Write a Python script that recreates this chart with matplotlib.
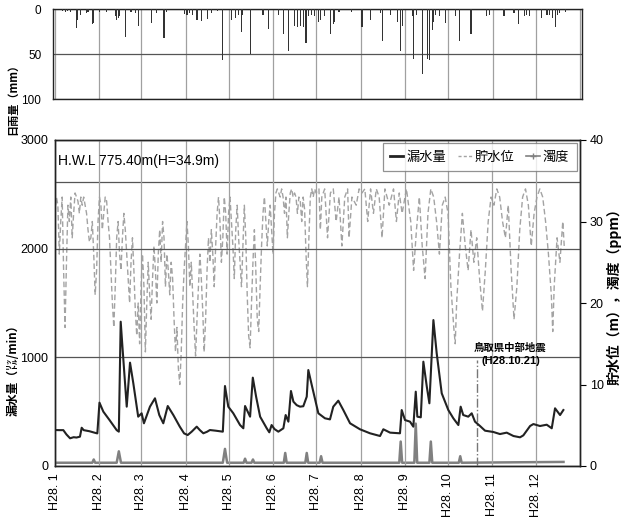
import numpy as np
import matplotlib
matplotlib.use("Agg")
import matplotlib.pyplot as plt
import matplotlib.dates as mdates
from matplotlib.lines import Line2D
from matplotlib import font_manager

# ---- data (H28 = 2016, days counted from 1 Jan) ----
start = np.datetime64("2016-01-01")

rain_day = [5, 7, 9, 11, 15, 16, 18, 22, 23, 26, 27, 31, 36, 42, 43, 44, 45, 49, 53, 56, 58,
            67, 71, 76, 78, 90, 92, 94, 96, 99, 102, 106, 109, 113, 117, 123, 126, 128, 130,
            131, 136, 145, 149, 156, 159, 163, 167, 169, 171, 173, 175, 177, 179, 181, 184,
            185, 188, 192, 194, 195, 198, 207, 214, 220, 227, 228, 234, 239, 241, 242, 249,
            250, 252, 256, 260, 261, 263, 264, 265, 268, 272, 279, 282, 290, 301, 303, 313,
            320, 323, 327, 329, 331, 339, 343, 345, 347, 349, 350, 352, 356]
rain_mm = [2, 2.5, 2, 3, 21, 12, 6, 4, 3, 16, 15, 3, 2.5, 8, 12, 10, 7, 31, 3, 4, 19,
           15, 4, 32, 3, 5, 6, 4, 6, 12, 13, 11, 4.5, 2, 56, 12, 10, 6, 25,
           6, 50, 6, 22, 6, 27, 47, 19, 20, 19, 20, 38, 8, 6, 8, 14,
           12, 8, 28, 16, 14, 3, 3, 20, 12, 4.5, 35, 6, 14, 47, 19, 8,
           55, 6, 72, 55, 56, 23, 14, 6, 8, 15, 8, 35, 28, 8, 6, 8,
           4.5, 16, 8, 6, 8, 10, 6, 6, 10, 20, 6, 4.5, 2.5]

leak_day = [0, 3, 5.8, 8, 10.5, 13, 15, 17.4, 18.6, 20, 24, 28, 29.5, 31, 33.7, 38, 43, 44.5,
            45.8, 47, 50, 52.3, 54.6, 58, 60.4, 62, 66.2, 69.7, 72.7, 75.5, 78.6, 82.5, 87,
            90, 92.5, 95.3, 98.8, 101, 103.4, 106, 108, 112, 117, 118.5, 120.8, 124.3, 129,
            131.3, 132.5, 136, 137.9, 140.2, 143, 147.6, 149.4, 151, 153, 155.7, 159.2,
            160.8, 162.7, 164.5, 166.2, 168.5, 170.8, 173.1, 175.5, 176.6, 179, 183.6, 188.2,
            191.7, 194, 197.5, 201, 205.7, 212.6, 219.6, 226.6, 228.9, 233.6, 240.5, 241.7,
            244, 247.5, 249.8, 251.5, 252.6, 255, 256.8, 259.2, 261, 263.8, 266.1, 269.6,
            274.2, 277.7, 281.2, 282.8, 284.6, 288.1, 290.5, 292.8, 296.3, 299.8, 305.6,
            310.2, 314.9, 319.6, 324.2, 326.5, 331.2, 333.5, 338.1, 342.8, 346.3, 348.6,
            352.1, 354.4]
leak_val = [331, 330, 330, 290, 255, 265, 262, 270, 352, 330, 320, 305, 300, 583, 500, 423, 330, 316,
            1328, 1100, 546, 951, 761, 454, 485, 393, 546, 623, 469, 393, 552, 469, 362,
            300, 285, 316, 362, 330, 301, 315, 331, 325, 316, 736, 546, 485, 377,
            347, 552, 454, 813, 638, 454, 347, 310, 377, 340, 316, 347,
            469, 408, 690, 592, 560, 546, 550, 638, 883, 745, 485, 439,
            429, 546, 601, 515, 393, 338, 301, 276, 338, 307, 301, 515,
            423, 408, 362, 684, 454, 448, 960, 730, 577, 1343, 1037, 669,
            515, 439, 377, 546, 469, 454, 485, 408, 368, 325, 313,
            294, 307, 276, 264, 282, 368, 386, 368, 380, 347, 531,
            469, 515]

level_day = list(range(0, 182)) + [182, 184, 185, 186, 188, 190, 192, 194, 196, 198, 200, 202,
            204, 205, 207, 210, 212, 214, 216, 218, 220, 222, 224, 226, 228, 230, 233, 236, 238,
            240, 242, 245, 248, 250, 252, 254, 256, 258, 260, 262, 264, 266, 268, 270, 272, 274,
            276, 278, 279, 280, 282, 284, 286, 288, 290, 292, 294, 296, 298, 300, 302, 304, 306,
            308, 310, 312, 314, 316, 318, 320, 322, 324, 326, 328, 330, 332, 334, 336, 338, 340,
            342, 344, 346, 347, 348, 350, 352, 354, 355]
level_m = [31, 33, 32, 26, 30, 33, 24, 17, 25, 32, 30, 33, 28, 31, 33.5, 33, 32.5, 31, 33, 32,
           33, 32, 31, 29, 27.5, 28, 30, 26, 21, 24, 30,
           33, 32, 29, 31, 33, 32.5, 30, 28, 24, 20, 17, 22, 28, 30, 26, 24, 28, 31, 29,
           26, 23, 20, 25, 28, 24, 19, 16, 20, 15,
           22, 26, 22, 14, 20, 25, 21, 18, 23, 27, 24, 20, 26, 29, 25, 30, 28, 22, 26, 24,
           21, 25, 23, 18, 14, 17, 12, 10, 14, 20, 24,
           27, 30, 27, 22, 25, 21, 17, 13.5, 18, 22, 26, 23, 19, 14, 18, 24, 28, 25, 29, 26,
           22, 27, 31, 33, 30, 25, 28, 33, 31, 26,
           31, 33, 30, 27, 23, 29, 32, 28, 25, 22, 27, 32, 28, 21, 16, 14.5, 20, 25, 29, 24,
           18, 16.5, 22, 27, 31, 33, 30, 27, 30, 32, 29,
           26, 31, 33.5, 34, 33.5, 33, 34, 33, 31, 33, 28, 31, 33.5, 34, 33, 33.5, 33, 31, 33,
           32.5, 30, 33, 31.5, 26, 22, 28, 33, 34, 33, 34,
           33.5, 34, 29, 33, 34, 28, 33.5, 34, 30, 33, 27, 33, 34, 28, 33, 32, 34, 33.5, 34, 30,
           34, 31, 34, 33, 28, 34, 32, 34, 30, 33.5, 31, 34, 30, 24, 29, 33, 27, 23, 31, 34, 33,
           30, 26, 32, 33, 31, 22, 17, 15, 20, 26, 31, 27, 24, 29, 25, 28, 23, 19, 24, 30, 33,
           32, 34, 33, 30, 28, 32, 24, 18, 22, 29, 33, 34, 32, 27, 31, 33, 34, 33, 30, 26, 21,
           16.5, 22, 28, 25, 30, 27]

turb_day = [0, 26, 27, 28, 43, 44.5, 46, 117, 118.5, 120, 131.5, 132.5, 133.5, 137, 138, 139,
            159.5, 160.5, 161.5, 174.5, 175.5, 176.5, 184.5, 185.5, 186.5, 240, 241, 242,
            250.5, 251.5, 252.5, 261, 262, 263, 281.5, 282.5, 283.5, 354.5]
turb_ppm = [0.4, 0.4, 0.8, 0.4, 0.4, 1.8, 0.4, 0.4, 2.1, 0.4, 0.4, 0.9, 0.4, 0.4, 0.8, 0.4,
            0.4, 1.6, 0.4, 0.4, 1.6, 0.4, 0.4, 1.2, 0.4, 0.4, 3.0, 0.4,
            0.4, 5.2, 0.4, 0.4, 3.0, 0.4, 0.4, 1.2, 0.4, 0.5]

month_labels = ["H28. 1", "H28. 2", "H28. 3", "H28. 4", "H28. 5", "H28. 6",
                "H28. 7", "H28. 8", "H28. 9", "H28. 10", "H28. 11", "H28. 12"]

hwl_level = 34.9
quake_day = 294          # 2016-10-21
quake_top = 980


def to_dates(days):
    return start + (np.asarray(days, dtype=float) * 86400).astype("timedelta64[s]")


# ---- fonts ----
names = {f.name for f in font_manager.fontManager.ttflist}
SANS = "Liberation Sans" if "Liberation Sans" in names else "DejaVu Sans"
JP = ["Noto Sans CJK JP", "DejaVu Sans"]

plt.rcParams["font.family"] = [SANS, "Noto Sans CJK JP", "DejaVu Sans"]

W, H = 627, 528
fig = plt.figure(figsize=(W / 100, H / 100), dpi=100)

x0 = np.datetime64("2016-01-01")
x1 = np.datetime64("2017-01-01")

# ---- rainfall panel ----
axr = fig.add_axes([52.5 / W, 1 - 99 / H, 529 / W, (99 - 9.3) / H])
axr.bar(to_dates(rain_day), rain_mm, width=0.75, color="#333333", zorder=3)
axr.set_xlim(x0 - np.timedelta64(42, "h"), x1 + np.timedelta64(25, "h"))
axr.set_ylim(100, 0)
axr.set_yticks([0, 50, 100])
axr.tick_params(axis="y", length=0, labelsize=8.5, pad=8)
axr.xaxis.set_major_locator(mdates.MonthLocator())
axr.tick_params(axis="x", length=0, labelbottom=False)
axr.grid(axis="x", color="#a0a0a0", lw=0.9)
axr.grid(axis="y", color="#555555", lw=0.9)
for s in axr.spines.values():
    s.set_color("#222222")
    s.set_linewidth(1.0)

# ---- main panel ----
ax = fig.add_axes([55 / W, 1 - 466 / H, 525 / W, 326 / H])
ax2 = ax.twinx()
ax.set_zorder(ax2.get_zorder() + 1)
ax.patch.set_visible(False)

ax.set_xlim(x0, x1)
ax.set_ylim(0, 3000)
ax.set_yticks([0, 1000, 2000, 3000])
ax.tick_params(axis="y", length=0, labelsize=9, pad=5)
ax.xaxis.set_major_locator(mdates.MonthLocator())
ax.set_xticklabels(month_labels, rotation=90, fontsize=9)
ax.tick_params(axis="x", length=0, pad=5)
ax.grid(axis="x", color="#a0a0a0", lw=0.9)
ax.grid(axis="y", color="#555555", lw=0.9)

ax2.set_ylim(0, 40)
ax2.set_yticks([0, 10, 20, 30, 40])
ax2.tick_params(axis="y", length=4, width=0.8, labelsize=9, pad=3)
for a in (ax, ax2):
    for s in a.spines.values():
        s.set_color("#222222")
        s.set_linewidth(1.0)

ax2.axhline(hwl_level, color="#555555", lw=0.9)
ax2.plot(to_dates(level_day), level_m, color="#a3a3a3", lw=1.0, dashes=(4, 2.2))
ax2.plot(to_dates(turb_day), turb_ppm, color="#808080", lw=1.8)
ax.plot(to_dates(leak_day), leak_val, color="#222222", lw=1.5, zorder=4)

# earthquake marker
qd = to_dates([quake_day])[0]
ax.plot([qd, qd], [0, quake_top], color="#777777", lw=1.0, linestyle="-.", zorder=3)
ax.text(to_dates([quake_day + 23.5])[0], 1090, "鳥取県中部地震", family=JP,
        fontsize=7.5, fontweight="bold", ha="center", va="center", zorder=5)
ax.text(to_dates([quake_day + 23.5])[0], 962, "(H28.10.21)", fontsize=8, fontweight="bold",
        ha="center", va="center", zorder=5)

ax.text(0.005, 0.935, "H.W.L 775.40m(H=34.9m)", transform=ax.transAxes,
        fontsize=10, ha="left", va="center")

handles = [
    Line2D([], [], color="#222222", lw=2.0),
    Line2D([], [], color="#a3a3a3", lw=1.0, dashes=(2.2, 1.6)),
    Line2D([], [], color="#808080", lw=1.2, marker="+", markersize=5),
]
leg = ax.legend(handles, ["漏水量", "貯水位", "濁度"], loc="upper right", ncol=3,
                prop={"family": JP, "size": 9.5}, frameon=True, fancybox=False,
                edgecolor="#777777", handlelength=1.0, handletextpad=0.25,
                columnspacing=0.9, borderaxespad=0.25, borderpad=0.55)
leg.get_frame().set_linewidth(0.9)
leg.set_zorder(10)

# axis titles
fig.text(13 / W, 1 - 96 / H, "日雨量（mm）", family=JP, fontsize=8, fontweight="bold",
         rotation=90, ha="center", va="center")
fig.text(13 / W, 1 - 367 / H, "漏水量（㍑/min）", family=JP, fontsize=8.5, fontweight="bold",
         rotation=90, ha="center", va="center")
fig.text(614 / W, 1 - 293 / H, "貯水位（m），濁度（ppm）", family=JP, fontsize=10,
         fontweight="bold", rotation=90, ha="center", va="center")

fig.savefig("out.png", dpi=100)
